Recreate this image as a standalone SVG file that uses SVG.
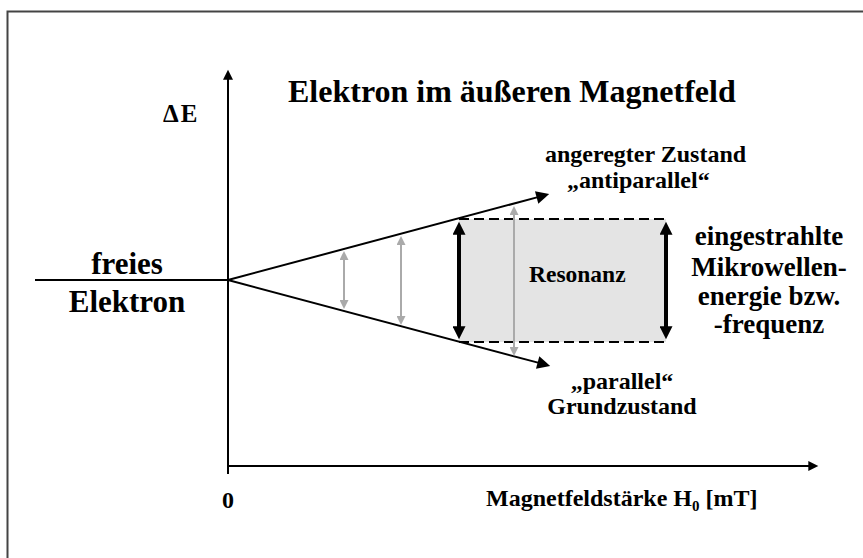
<svg xmlns="http://www.w3.org/2000/svg" width="863" height="558" viewBox="0 0 863 558">
<style>
text{font-family:"Liberation Serif","Times New Roman",serif;font-weight:bold;fill:#000}
.ax{stroke:#000;stroke-width:2;fill:none}
.gr{stroke:#aaa;stroke-width:2;fill:none}
.bk{stroke:#000;stroke-width:4;fill:none}
</style>
<defs>
<marker id="ahax" viewBox="0 0 10 10" refX="1" refY="5" markerWidth="13" markerHeight="10" markerUnits="userSpaceOnUse" orient="auto"><path d="M0,0L10,5L0,10z" fill="#000"/></marker>
<marker id="ahl" viewBox="0 0 10 10" refX="1" refY="5" markerWidth="22" markerHeight="13" markerUnits="userSpaceOnUse" orient="auto"><path d="M0,0L10,5L0,10z" fill="#000"/></marker>
<marker id="ahb" viewBox="0 0 10 10" refX="1" refY="5" markerWidth="16" markerHeight="13" markerUnits="userSpaceOnUse" orient="auto-start-reverse"><path d="M0,0L10,5L0,10z" fill="#000"/></marker>
<marker id="ahg" viewBox="0 0 10 10" refX="1" refY="5" markerWidth="10" markerHeight="9" markerUnits="userSpaceOnUse" orient="auto-start-reverse"><path d="M0,0L10,5L0,10z" fill="#aaa"/></marker>
</defs>
<path d="M7.5,558V11.5H863" fill="none" stroke="#444" stroke-width="2"/>
<g id="axes">
<line class="ax" x1="228" y1="474" x2="228" y2="78.7" marker-end="url(#ahax)"/>
<line class="ax" x1="228" y1="466" x2="809.3" y2="466" marker-end="url(#ahax)"/>
</g>
<g id="resonance-box">
<rect x="459" y="219" width="207" height="123" fill="#e4e4e4"/>
<line x1="459" y1="219" x2="669" y2="219" stroke="#000" stroke-width="2" stroke-dasharray="10,5"/>
<line x1="459" y1="342" x2="669" y2="342" stroke="#000" stroke-width="2" stroke-dasharray="10,5"/>
<text x="529" y="282" font-size="23.5">Resonanz</text>
</g>
<g id="connectors">
<line class="ax" x1="35" y1="280" x2="228" y2="280"/>
<line class="ax" x1="228" y1="280" x2="537.9" y2="197.1" marker-end="url(#ahl)"/>
<line class="ax" x1="228" y1="280" x2="538.9" y2="362.9" marker-end="url(#ahl)"/>
<line class="gr" x1="344" y1="259" x2="344" y2="301" marker-start="url(#ahg)" marker-end="url(#ahg)"/>
<line class="gr" x1="401" y1="244" x2="401" y2="317" marker-start="url(#ahg)" marker-end="url(#ahg)"/>
<line class="gr" x1="514" y1="214" x2="514" y2="348" marker-start="url(#ahg)" marker-end="url(#ahg)"/>
<line class="bk" x1="459" y1="233.4" x2="459" y2="327.6" marker-start="url(#ahb)" marker-end="url(#ahb)"/>
<line class="bk" x1="666" y1="233.4" x2="666" y2="327.6" marker-start="url(#ahb)" marker-end="url(#ahb)"/>
</g>
<g id="title"><text x="288" y="102" font-size="32">Elektron im äußeren Magnetfeld</text></g>
<g id="delta-e"><text x="163" y="122" font-size="25" letter-spacing="2">ΔE</text></g>
<g id="free-electron">
<text x="127" y="274" font-size="31" text-anchor="middle">freies</text>
<text x="127" y="312" font-size="31" text-anchor="middle">Elektron</text>
</g>
<g id="excited">
<text x="545" y="162" font-size="24">angeregter Zustand</text>
<text x="567" y="188" font-size="24">„antiparallel“</text>
</g>
<g id="ground">
<text x="622" y="389" font-size="24" text-anchor="middle">„parallel“</text>
<text x="622" y="414" font-size="24" text-anchor="middle">Grundzustand</text>
</g>
<g id="microwave">
<text x="769" y="245" font-size="27" text-anchor="middle">eingestrahlte</text>
<text x="769" y="276" font-size="27" text-anchor="middle">Mikrowellen-</text>
<text x="769" y="305" font-size="27" text-anchor="middle">energie bzw.</text>
<text x="769" y="333" font-size="27" text-anchor="middle">-frequenz</text>
</g>
<g id="zero"><text x="228" y="508" font-size="24" text-anchor="middle">0</text></g>
<g id="x-label"><text x="486" y="506" font-size="24">Magnetfeldstärke H<tspan font-size="15" dy="5">0</tspan><tspan dy="-5"> [mT]</tspan></text></g>
</svg>
